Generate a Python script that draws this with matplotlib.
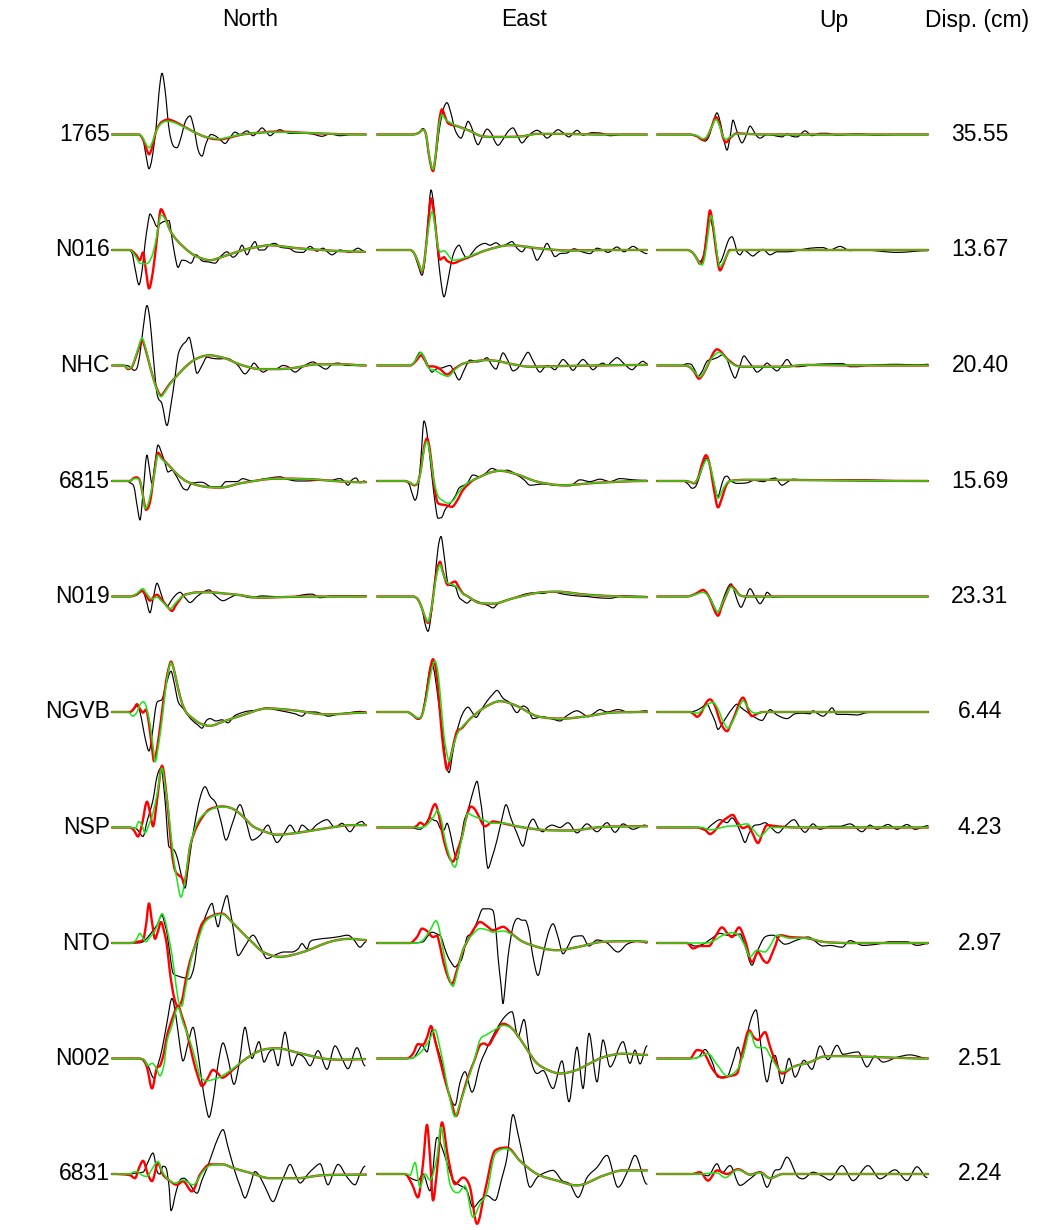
import matplotlib
matplotlib.use("Agg")
import matplotlib.pyplot as plt
from matplotlib.path import Path
from matplotlib.patches import PathPatch

# Stations (top to bottom) and their peak displacement in cm
stations = ["1765", "N016", "NHC", "6815", "N019", "NGVB", "NSP", "NTO", "N002", "6831"]
disp_cm = [35.55, 13.67, 20.40, 15.69, 23.31, 6.44, 4.23, 2.97, 2.51, 2.24]
components = ["North", "East", "Up"]

# Samples per component window
n_samples = [254, 270, 271]

# Traces as (sample, amplitude in % of station peak)
# obs = recorded, syn_a = red model, syn_b = green model

# ---- 1765 ----
s1765_n_obs = [(0,0),(26,0),(31,-8),(34,-35),(37,-57),(40,-40),(44,10),(47,70),(50,102),(53,75),(57,10),(61,-18),(65,-22),(69,-5),(73,20),(78,31),(82,10),(86,-25),(90,-36),(94,-15),(99,0),(104,-3),(109,-10),(113,-15),(118,-5),(123,4),(128,0),(135,6),(141,-2),(146,5),(150,11),(154,5),(158,-2),(163,4),(168,8),(173,4),(178,2),(190,2),(200,1),(210,-3),(218,1),(228,-2),(240,0),(254,0)]
s1765_n_syn_a = [(0,0),(27,0),(31,-8),(34,-22),(37,-33),(40,-22),(44,5),(48,18),(52,23),(56,25),(62,22),(70,15),(80,6),(90,-2),(100,-7),(108,-8),(118,-5),(130,0),(148,3),(165,5),(190,3),(220,1),(254,0)]
s1765_n_syn_b = [(0,0),(27,0),(31,-6),(34,-16),(37,-22),(40,-14),(44,5),(48,16),(52,21),(56,22),(62,20),(70,14),(80,6),(90,-2),(100,-6),(108,-7),(118,-4),(130,0),(148,3),(165,4),(190,3),(220,1),(254,0)]
s1765_e_obs = [(0,0),(36,0),(42,3),(46,10),(49,0),(52,-35),(56,-61),(59,-35),(62,5),(66,40),(70,53),(74,35),(78,8),(84,-6),(88,10),(91,22),(95,10),(98,-8),(101,-17),(105,-5),(110,9),(115,0),(118,-12),(121,-18),(126,-8),(131,5),(136,11),(140,0),(145,-14),(150,-5),(155,3),(160,7),(165,2),(170,-6),(175,0),(181,8),(186,3),(192,-4),(196,2),(200,7),(206,-1),(215,3),(225,2),(233,-2),(245,0),(270,0)]
s1765_e_syn_a = [(0,0),(36,0),(42,3),(46,8),(49,0),(52,-35),(56,-61),(59,-30),(62,20),(65,42),(68,30),(71,19),(80,14),(93,6),(103,-2),(115,-4),(126,-4),(145,-3),(160,1),(185,1),(220,0),(270,0)]
s1765_e_syn_b = [(0,0),(36,0),(42,3),(46,8),(49,0),(52,-33),(56,-58),(59,-30),(62,15),(65,33),(68,26),(71,22),(80,14),(93,6),(103,-2),(115,-4),(126,-4),(145,-3),(160,1),(185,1),(220,0),(270,0)]
s1765_u_obs = [(0,0),(33,0),(40,-3),(44,-8),(48,-11),(52,-3),(56,20),(60,36),(64,15),(67,-10),(70,-26),(73,-5),(76,24),(79,10),(82,-5),(85,-14),(89,-2),(93,14),(97,5),(100,-3),(103,-6),(110,0),(118,-2),(125,-4),(130,1),(135,-3),(140,-4),(148,6),(155,-2),(163,2),(170,2),(180,-1),(200,1),(220,-1),(240,0),(271,0)]
s1765_u_syn_a = [(0,0),(33,0),(40,-3),(46,-9),(50,-5),(54,10),(59,29),(63,15),(66,-5),(69,-13),(73,-6),(80,2),(90,1),(110,0),(271,0)]
s1765_u_syn_b = [(0,0),(33,0),(40,-2),(46,-7),(50,-3),(54,10),(59,25),(63,12),(66,-3),(69,-8),(73,-4),(80,1),(90,1),(110,0),(271,0)]

# ---- N016 ----
n016_n_obs = [(0,0),(16,0),(20,-5),(23,-30),(27,-58),(30,-35),(33,10),(36,45),(38,60),(41,52),(45,39),(49,45),(53,48),(57,49),(60,20),(63,-10),(66,-29),(70,-17),(74,-18),(79,-22),(84,-8),(90,-18),(97,-20),(103,-22),(109,-10),(115,-3),(121,-12),(126,-5),(130,8),(135,-8),(139,5),(143,14),(147,0),(152,0),(157,8),(163,11),(168,5),(178,2),(183,-3),(191,-4),(198,6),(205,-2),(211,3),(216,-4),(220,-8),(228,0),(238,-4),(246,3),(253,-3)]
n016_n_syn_a = [(0,0),(18,0),(24,-8),(28,-17),(31,-4),(34,-35),(37,-64),(41,-35),(45,20),(49,68),(53,55),(58,33),(64,18),(71,6),(78,-4),(85,-11),(98,-17),(111,-11),(131,0),(145,5),(158,8),(170,6),(185,3),(210,0),(230,-2),(253,-3)]
n016_n_syn_b = [(0,0),(18,0),(24,-12),(28,-22),(33,-23),(37,-20),(41,-5),(45,25),(49,58),(53,52),(58,33),(64,18),(71,6),(78,-4),(85,-11),(98,-17),(111,-11),(131,0),(145,5),(158,8),(170,6),(185,3),(210,0),(230,-2),(253,-3)]
n016_e_obs = [(0,0),(33,0),(37,-5),(41,-25),(45,-42),(48,-15),(51,50),(54,100),(57,70),(60,10),(63,-40),(67,-78),(71,-50),(75,-15),(78,0),(82,8),(86,-5),(90,-14),(95,-5),(100,5),(108,11),(113,8),(119,12),(125,6),(130,10),(135,14),(140,3),(145,-3),(150,6),(155,2),(160,-17),(165,-5),(170,11),(174,0),(178,-11),(183,-6),(190,-5),(197,2),(205,-3),(213,-6),(220,3),(226,0),(231,-4),(240,5),(247,-3),(256,6),(263,-1),(270,-6)]
n016_e_syn_a = [(0,0),(33,0),(37,-5),(41,-20),(45,-36),(48,-10),(51,40),(54,86),(57,60),(60,15),(63,-16),(67,-12),(70,-18),(76,-22),(84,-17),(93,-11),(110,0),(133,8),(160,3),(193,-1),(230,0),(270,0)]
n016_e_syn_b = [(0,0),(33,0),(37,-5),(41,-20),(45,-35),(48,-10),(51,30),(55,64),(58,40),(61,5),(64,-3),(67,-1),(70,-6),(76,-17),(84,-15),(93,-10),(110,0),(133,8),(160,3),(193,-1),(230,0),(270,0)]
n016_u_obs = [(0,0),(30,0),(36,-5),(40,-15),(43,-19),(47,-5),(50,30),(53,50),(56,35),(59,5),(62,-22),(65,-15),(69,5),(72,18),(75,22),(78,10),(80,-3),(83,-8),(87,0),(90,-3),(96,-10),(100,-5),(106,1),(113,-8),(120,-3),(130,-3),(143,0),(153,3),(166,4),(173,0),(183,6),(193,-1),(206,0),(240,-4),(271,-1)]
n016_u_syn_a = [(0,0),(30,0),(36,-5),(40,-15),(43,-23),(47,-10),(50,30),(53,66),(56,40),(59,0),(63,-34),(66,-25),(70,-8),(73,0),(271,0)]
n016_u_syn_b = [(0,0),(30,0),(36,-5),(40,-15),(45,-25),(48,-10),(51,25),(54,57),(57,35),(60,-5),(63,-28),(67,-18),(71,-5),(75,0),(271,0)]

# ---- NHC ----
nhc_n_obs = [(0,0),(15,0),(19,-4),(22,-8),(25,-4),(28,20),(31,60),(35,100),(38,75),(41,20),(45,-47),(50,-64),(55,-100),(59,-65),(63,-20),(66,17),(70,33),(74,40),(77,47),(81,20),(85,-13),(90,0),(95,14),(100,12),(108,11),(115,12),(120,8),(126,0),(133,-14),(138,-5),(142,4),(146,-3),(151,-11),(157,-6),(165,-5),(171,0),(176,-2),(183,-11),(190,-3),(196,3),(201,6),(207,0),(214,-6),(220,2),(226,4),(235,0),(254,0)]
nhc_n_syn_a = [(0,0),(12,0),(16,-6),(20,-2),(24,15),(28,35),(30,42),(33,30),(37,5),(42,-25),(46,-43),(49,-50),(53,-42),(58,-30),(65,-17),(73,-3),(81,8),(90,15),(98,17),(106,15),(115,11),(123,5),(131,0),(148,-6),(165,-6),(182,-4),(205,2),(231,2),(254,0)]
nhc_n_syn_b = [(0,0),(12,0),(16,-5),(20,-1),(24,17),(28,39),(30,46),(33,33),(37,6),(42,-26),(46,-45),(49,-52),(53,-44),(58,-31),(65,-17),(73,-3),(81,8),(90,15),(98,17),(106,15),(115,11),(123,5),(131,0),(148,-6),(165,-6),(182,-4),(205,2),(231,2),(254,0)]
nhc_e_obs = [(0,0),(33,0),(37,5),(40,15),(43,22),(47,15),(51,0),(55,-11),(59,-6),(65,-4),(70,-1),(73,0),(77,-10),(82,-24),(87,-8),(93,9),(100,6),(105,8),(110,13),(115,0),(119,-6),(122,5),(126,21),(131,8),(136,-9),(141,-4),(146,10),(151,22),(156,8),(163,-11),(168,-2),(171,0),(178,-7),(182,2),(186,10),(191,2),(196,-8),(201,2),(206,10),(211,2),(216,-7),(221,0),(226,4),(230,0),(235,7),(240,13),(247,3),(255,-7),(260,0),(266,7),(270,3)]
nhc_e_syn_a = [(0,0),(33,0),(37,4),(41,12),(44,17),(48,8),(51,-1),(58,-2),(63,-6),(70,-15),(78,-5),(86,3),(98,7),(110,9),(122,7),(133,3),(153,-2),(180,-1),(220,0),(270,1)]
nhc_e_syn_b = [(0,0),(33,0),(37,5),(41,16),(44,22),(48,10),(52,-5),(58,-8),(64,-14),(71,-18),(78,-7),(86,3),(98,7),(110,9),(122,7),(133,3),(153,-2),(180,-1),(220,0),(270,1)]
nhc_u_obs = [(0,0),(25,0),(30,3),(34,2),(38,-8),(41,-18),(45,-10),(50,7),(55,10),(60,13),(66,18),(70,10),(74,-8),(78,-21),(82,-5),(87,16),(91,8),(96,-3),(100,-11),(105,-5),(110,4),(115,-3),(120,-9),(125,0),(130,10),(135,0),(140,-2),(160,2),(186,3),(193,-2),(200,-2),(210,0),(240,2),(260,1),(271,2)]
nhc_u_syn_a = [(0,0),(25,0),(32,-2),(37,-10),(42,-22),(47,-12),(52,5),(56,20),(60,27),(64,23),(69,13),(73,7),(79,0),(87,-2),(110,-2),(126,-2),(150,1),(200,0),(271,0)]
nhc_u_syn_b = [(0,0),(25,0),(32,-2),(37,-9),(43,-19),(48,-8),(53,8),(58,18),(62,22),(66,18),(70,10),(75,3),(80,-1),(90,-2),(110,-2),(126,-2),(150,1),(200,0),(271,0)]

# ---- 6815 ----
s6815_n_obs = [(0,0),(15,0),(18,-3),(22,-10),(25,-40),(28,-65),(31,-20),(35,43),(37,25),(40,-4),(43,30),(46,60),(50,45),(53,30),(56,15),(60,18),(63,12),(68,-3),(71,-12),(75,-15),(79,-5),(83,-3),(88,-2),(92,-3),(98,-9),(104,-10),(108,-10),(114,-1),(125,-1),(131,4),(135,2),(141,0),(150,3),(158,5),(168,7),(175,3),(185,0),(195,0),(205,1),(218,1),(228,4),(232,0),(236,-7),(240,2),(244,5),(248,-3),(252,0),(254,-1)]
s6815_n_syn_a = [(0,0),(18,0),(21,4),(24,6),(28,0),(31,-25),(34,-48),(38,-35),(42,10),(46,47),(50,38),(58,24),(66,10),(75,-1),(91,-9),(108,-11),(131,-3),(165,4),(198,3),(231,-1),(254,-2)]
s6815_n_syn_b = [(0,0),(18,0),(21,3),(24,4),(28,0),(31,-25),(33,-46),(37,-33),(42,8),(46,43),(50,36),(58,24),(66,10),(75,-1),(91,-9),(108,-11),(131,-3),(165,4),(198,3),(231,-1),(254,-2)]
s6815_e_obs = [(0,0),(26,0),(32,-5),(35,-20),(38,-32),(41,-15),(44,40),(47,100),(50,80),(55,7),(58,-35),(61,-62),(65,-60),(68,-48),(72,-40),(78,-26),(82,-12),(90,-4),(96,10),(103,7),(108,12),(115,21),(123,16),(130,18),(140,10),(147,2),(153,-7),(166,-5),(178,-7),(193,-8),(203,2),(213,-1),(223,3),(233,-1),(243,4),(256,2),(270,1)]
s6815_e_syn_a = [(0,0),(28,0),(33,-3),(37,-7),(41,-2),(44,20),(47,55),(50,71),(53,50),(57,-5),(61,-37),(68,-40),(75,-43),(80,-33),(86,-15),(95,0),(103,7),(113,14),(123,17),(140,11),(160,-1),(186,-7),(220,-3),(270,0)]
s6815_e_syn_b = [(0,0),(28,0),(33,-3),(37,-6),(41,-2),(44,18),(47,52),(50,66),(53,45),(57,0),(61,-25),(66,-33),(71,-37),(76,-33),(82,-18),(90,-4),(103,7),(113,14),(123,17),(140,11),(160,-1),(186,-7),(220,-3),(270,0)]
s6815_u_obs = [(0,0),(26,0),(31,-5),(35,-12),(39,-8),(44,15),(49,38),(53,25),(57,-5),(61,-26),(64,-10),(67,5),(70,8),(74,0),(80,-4),(90,-3),(97,1),(106,-1),(113,3),(118,5),(125,-7),(131,-1),(136,3),(150,1),(186,2),(271,0)]
s6815_u_syn_a = [(0,0),(28,0),(34,-2),(37,-4),(41,5),(45,28),(49,43),(53,25),(57,-15),(61,-44),(65,-28),(69,-8),(73,0),(93,2),(271,0)]
s6815_u_syn_b = [(0,0),(28,0),(34,-2),(37,-3),(42,8),(46,25),(50,36),(54,20),(58,-10),(61,-29),(65,-17),(69,-5),(73,0),(93,2),(271,0)]

# ---- N019 ----
n019_n_obs = [(0,0),(18,0),(22,1),(26,4),(30,11),(34,-5),(38,-27),(41,-5),(45,22),(49,5),(52,-10),(55,-16),(60,-5),(64,3),(68,7),(73,-2),(78,-10),(85,0),(92,8),(97,11),(103,2),(111,-7),(118,-2),(125,3),(135,-1),(140,-2),(150,1),(160,0),(178,-1),(192,3),(200,4),(208,-2),(220,1),(254,1)]
n019_n_syn_a = [(0,0),(18,0),(24,3),(30,9),(34,2),(38,-7),(42,0),(45,3),(48,-2),(53,-12),(57,-20),(60,-24),(64,-14),(71,1),(78,5),(85,7),(98,7),(112,5),(125,3),(148,-2),(170,-1),(200,0),(254,0)]
n019_n_syn_b = [(0,0),(18,0),(24,4),(31,13),(35,4),(40,-4),(45,-1),(48,-5),(54,-15),(58,-21),(62,-14),(68,-3),(74,3),(85,7),(98,7),(112,5),(125,3),(148,-2),(170,-1),(200,0),(254,0)]
n019_e_obs = [(0,0),(36,0),(41,-5),(45,-20),(48,-45),(51,-58),(55,-20),(58,30),(61,80),(64,100),(67,70),(71,22),(75,18),(78,17),(82,-1),(86,-7),(90,-11),(95,-5),(100,-8),(106,-12),(111,-15),(116,-19),(121,-12),(126,-8),(136,-3),(146,3),(156,6),(165,5),(175,8),(186,4),(200,1),(210,0),(220,-2),(233,-3),(246,1),(270,0)]
n019_e_syn_a = [(0,0),(36,0),(41,-5),(45,-20),(48,-35),(51,-44),(55,-15),(58,25),(61,50),(63,58),(66,40),(71,19),(75,23),(78,25),(82,15),(86,5),(90,1),(103,-11),(116,-12),(136,-3),(160,6),(180,8),(210,3),(245,0),(270,-1)]
n019_e_syn_b = [(0,0),(36,0),(41,-5),(45,-20),(48,-33),(51,-42),(55,-15),(58,20),(61,45),(63,53),(66,38),(71,22),(75,20),(78,18),(82,12),(86,4),(90,1),(103,-11),(116,-12),(136,-3),(160,6),(180,8),(210,3),(245,0),(270,-1)]
n019_u_obs = [(0,0),(30,0),(38,3),(43,8),(46,10),(50,5),(54,-5),(58,-20),(61,-26),(65,-10),(70,12),(74,21),(78,5),(81,-10),(84,-18),(88,-5),(93,13),(98,0),(103,-12),(107,-3),(110,7),(116,-1),(125,0),(271,0)]
n019_u_syn_a = [(0,0),(30,0),(38,4),(43,9),(46,11),(50,5),(54,-8),(58,-25),(61,-32),(65,-15),(70,5),(74,18),(78,12),(83,2),(90,0),(271,0)]
n019_u_syn_b = [(0,0),(30,0),(38,3),(43,6),(46,7),(50,3),(54,-6),(58,-20),(61,-26),(65,-12),(70,5),(74,16),(78,10),(83,2),(90,0),(271,0)]

# ---- NGVB ----
ngvb_n_obs = [(0,0),(18,0),(22,5),(25,10),(28,0),(31,-25),(34,-50),(37,-65),(40,-40),(43,0),(45,16),(48,19),(50,21),(54,45),(59,68),(62,50),(66,18),(70,8),(73,2),(77,-8),(81,-15),(86,-22),(90,-27),(94,-15),(98,-11),(104,-15),(110,-13),(116,-18),(122,-7),(130,-1),(138,2),(146,3),(155,7),(163,4),(172,1),(183,-3),(190,-7),(195,0),(203,0),(210,-3),(216,-7),(225,-4),(238,-1),(248,1),(254,0)]
ngvb_n_syn_a = [(0,0),(18,0),(22,6),(25,13),(28,5),(31,-1),(34,4),(37,-20),(40,-60),(42,-82),(46,-50),(50,0),(54,50),(57,75),(59,84),(62,70),(66,40),(70,15),(74,0),(78,-7),(88,-19),(98,-23),(111,-16),(131,-5),(155,6),(181,3),(215,-4),(254,-1)]
ngvb_n_syn_b = [(0,0),(16,0),(21,-7),(25,0),(28,12),(31,17),(34,10),(38,-20),(42,-70),(43,-83),(47,-50),(51,0),(55,55),(59,82),(62,70),(66,40),(70,15),(74,0),(78,-7),(88,-19),(98,-23),(111,-16),(131,-5),(155,6),(181,3),(215,-4),(254,-1)]
ngvb_e_obs = [(0,0),(30,0),(35,-5),(41,-12),(45,-5),(49,30),(52,65),(55,81),(58,60),(62,10),(66,-40),(69,-85),(72,-101),(76,-65),(80,-32),(85,-5),(91,8),(95,0),(99,-9),(104,3),(110,18),(116,30),(120,36),(126,23),(133,15),(140,-1),(146,10),(151,5),(156,-11),(165,-8),(176,-12),(183,-15),(190,-6),(200,2),(206,-3),(211,-8),(217,-2),(223,4),(230,0),(241,4),(253,-1),(270,2)]
ngvb_e_syn_a = [(0,0),(30,0),(35,-4),(41,-11),(45,-5),(49,25),(53,70),(56,88),(59,70),(62,20),(65,-40),(68,-80),(70,-96),(73,-80),(77,-50),(80,-32),(84,-28),(86,-25),(91,-15),(96,-7),(108,8),(123,18),(140,10),(160,-7),(186,-11),(210,-7),(235,-1),(270,0)]
ngvb_e_syn_b = [(0,0),(30,0),(35,-4),(41,-10),(45,-5),(49,20),(54,65),(58,85),(61,65),(64,15),(67,-40),(70,-70),(72,-82),(76,-60),(80,-38),(85,-25),(91,-15),(96,-7),(108,8),(123,18),(140,10),(160,-7),(186,-11),(210,-7),(235,-1),(270,0)]
ngvb_u_obs = [(0,0),(33,0),(40,3),(45,8),(50,13),(54,0),(58,-15),(61,-29),(65,-20),(70,-7),(75,5),(80,13),(85,6),(90,0),(96,-7),(105,-14),(110,-2),(113,4),(120,-5),(130,-11),(138,-3),(146,-2),(153,-3),(156,2),(160,-2),(166,-7),(171,0),(175,7),(180,-4),(190,-4),(200,-5),(210,-1),(230,0),(271,0)]
ngvb_u_syn_a = [(0,0),(33,0),(37,-4),(40,-8),(44,-2),(49,15),(53,21),(58,10),(63,-15),(67,-28),(70,-32),(74,-20),(79,0),(83,18),(86,24),(89,15),(92,0),(95,-7),(100,-3),(106,0),(271,0)]
ngvb_u_syn_b = [(0,0),(33,0),(40,-2),(45,3),(50,12),(56,16),(61,5),(66,-15),(71,-27),(75,-18),(80,0),(84,15),(86,19),(90,10),(95,0),(100,-2),(106,0),(271,0)]

# ---- NSP ----
nsp_n_obs = [(0,0),(18,0),(25,-3),(31,-15),(35,10),(41,46),(45,85),(49,99),(53,46),(57,-32),(60,-35),(63,-40),(66,-55),(70,-85),(73,-101),(76,-70),(80,-21),(86,35),(90,60),(93,68),(98,52),(104,40),(109,10),(114,-21),(120,5),(128,38),(134,10),(140,-21),(148,-13),(156,4),(160,-10),(165,-25),(172,-10),(178,4),(185,-10),(190,4),(198,-5),(205,5),(215,13),(223,0),(230,7),(238,-7),(244,5),(250,10),(254,4)]
nsp_n_syn_a = [(0,0),(18,0),(22,-5),(26,-15),(30,5),(35,43),(38,25),(41,2),(45,45),(50,103),(55,46),(60,-43),(63,-71),(67,-80),(70,-84),(72,-93),(75,-70),(78,-32),(85,2),(95,27),(102,33),(110,35),(118,33),(125,27),(133,15),(141,2),(153,-7),(165,-12),(185,-9),(215,-1),(240,4),(254,4)]
nsp_n_syn_b = [(0,0),(20,0),(23,-2),(27,10),(30,3),(33,-9),(37,5),(41,24),(45,55),(50,99),(53,70),(56,35),(61,-43),(65,-87),(69,-116),(73,-87),(78,-32),(86,10),(98,29),(108,34),(118,33),(125,27),(133,15),(141,2),(153,-7),(165,-12),(185,-9),(215,-1),(240,4),(254,4)]
nsp_e_obs = [(0,0),(33,0),(43,-3),(48,5),(53,16),(57,12),(60,10),(64,-3),(67,-4),(70,7),(74,-15),(77,-40),(80,-54),(84,-20),(87,10),(90,24),(93,41),(97,65),(100,77),(103,50),(106,13),(108,-30),(111,-68),(115,-50),(120,-21),(125,15),(129,38),(134,15),(140,-10),(146,-31),(151,0),(156,14),(162,-3),(166,-7),(170,0),(175,4),(183,0),(191,8),(200,-9),(210,6),(220,-7),(230,8),(238,-8),(246,6),(256,-3),(268,4),(270,2)]
nsp_e_syn_a = [(0,0),(36,0),(40,3),(43,8),(48,4),(52,15),(55,30),(58,39),(62,20),(66,-15),(70,-40),(73,-52),(76,-57),(80,-40),(85,-15),(89,15),(94,35),(98,30),(101,21),(108,2),(116,10),(126,7),(143,1),(166,-4),(193,-5),(226,1),(270,2)]
nsp_e_syn_b = [(0,0),(36,0),(43,0),(48,2),(53,10),(58,22),(60,29),(64,15),(68,-20),(72,-45),(75,-60),(78,-66),(82,-40),(86,-10),(91,24),(95,20),(103,15),(116,7),(126,7),(143,1),(166,-4),(193,-5),(226,1),(270,2)]
nsp_u_obs = [(0,0),(40,0),(48,-4),(55,5),(63,13),(70,8),(75,16),(80,5),(84,-10),(88,-25),(92,-10),(97,3),(103,5),(108,8),(114,0),(121,-9),(128,2),(137,13),(143,0),(148,-8),(156,6),(163,-3),(173,2),(183,2),(193,6),(205,-7),(213,4),(220,-3),(231,5),(240,-3),(250,5),(258,-3),(271,3)]
nsp_u_syn_a = [(0,0),(40,0),(48,-4),(53,-11),(58,-5),(64,8),(70,16),(76,21),(80,10),(86,-1),(91,2),(95,-8),(101,-26),(105,-12),(110,4),(120,2),(140,0),(271,0)]
nsp_u_syn_b = [(0,0),(45,0),(53,-4),(60,-2),(70,2),(80,3),(90,6),(96,-3),(103,-15),(108,-8),(113,0),(140,0),(271,0)]

# ---- NTO ----
nto_n_obs = [(0,0),(25,0),(31,2),(36,10),(41,21),(45,30),(50,46),(53,30),(55,16),(58,-20),(61,-50),(66,-55),(72,-58),(77,-60),(82,-40),(86,4),(91,32),(96,55),(100,66),(103,45),(106,27),(110,55),(115,79),(118,55),(121,27),(126,-21),(133,-5),(141,13),(148,-5),(155,-26),(163,-20),(172,-15),(180,-15),(186,-10),(190,-1),(195,-10),(198,2),(205,6),(215,8),(225,10),(236,13),(242,5),(248,-7),(254,2)]
nto_n_syn_a = [(0,0),(18,0),(25,2),(31,5),(34,30),(37,66),(40,35),(43,7),(46,20),(49,35),(52,20),(55,-5),(58,-50),(62,-90),(66,-106),(70,-95),(74,-60),(78,-30),(83,-5),(90,32),(100,45),(110,49),(120,35),(131,16),(141,0),(151,-15),(168,-23),(191,-15),(218,2),(238,7),(254,5)]
nto_n_syn_b = [(0,0),(20,0),(24,5),(28,16),(31,8),(34,2),(38,10),(43,20),(47,38),(50,49),(53,38),(56,15),(60,-20),(64,-70),(67,-100),(70,-105),(73,-80),(77,-45),(81,-15),(86,5),(92,32),(100,44),(110,48),(120,35),(131,16),(141,0),(151,-15),(168,-23),(191,-15),(218,2),(238,7),(254,5)]
nto_e_obs = [(0,0),(33,0),(46,2),(51,12),(55,18),(60,15),(64,10),(68,-10),(71,-23),(74,-32),(78,-40),(81,-35),(85,-26),(88,-5),(90,10),(95,16),(100,35),(106,57),(111,57),(116,54),(119,20),(121,-23),(124,-70),(126,-101),(128,-75),(131,-23),(136,27),(141,41),(145,38),(148,38),(152,20),(156,-23),(161,-54),(166,-20),(171,15),(176,32),(181,10),(186,-18),(191,-5),(196,10),(205,12),(212,-5),(220,5),(230,0),(241,-15),(250,-2),(262,3),(270,0)]
nto_e_syn_a = [(0,0),(33,0),(40,10),(45,24),(50,20),(56,10),(60,12),(63,-5),(66,-29),(70,-52),(75,-68),(80,-45),(86,-12),(91,5),(96,21),(103,35),(110,28),(116,21),(121,24),(126,27),(135,15),(146,2),(166,-9),(180,-12),(200,-7),(226,2),(260,3),(270,2)]
nto_e_syn_b = [(0,0),(40,0),(46,5),(53,21),(59,37),(62,25),(66,-10),(70,-45),(74,-68),(76,-72),(80,-50),(86,-12),(91,5),(96,15),(103,24),(110,22),(116,18),(126,20),(135,14),(146,2),(166,-9),(180,-12),(200,-7),(226,2),(260,3),(270,2)]
nto_u_obs = [(0,0),(30,0),(38,-5),(46,-2),(55,8),(63,16),(70,13),(76,12),(83,15),(88,-5),(95,-37),(100,-15),(108,10),(116,13),(128,-2),(140,5),(151,10),(166,-5),(173,-4),(185,-7),(193,4),(206,-4),(220,-2),(233,2),(250,2),(260,-4),(271,-1)]
nto_u_syn_a = [(0,0),(30,0),(36,-9),(43,-5),(52,-5),(58,10),(65,26),(71,15),(75,10),(82,26),(88,5),(95,-32),(101,-15),(106,-28),(110,-33),(117,-10),(123,13),(133,10),(150,8),(166,2),(193,0),(271,0)]
nto_u_syn_b = [(0,0),(50,0),(58,5),(66,13),(76,17),(82,12),(88,-5),(93,-23),(100,-12),(108,-15),(113,-5),(120,13),(133,8),(150,8),(166,2),(193,0),(271,0)]

# ---- N002 ----
n002_n_obs = [(0,0),(25,0),(31,-1),(36,-12),(42,-33),(46,-10),(50,15),(55,60),(60,100),(64,70),(68,20),(71,-4),(76,25),(81,52),(85,20),(90,-40),(94,-80),(97,-98),(101,-70),(106,-10),(111,26),(116,0),(122,-43),(127,-10),(133,52),(137,20),(140,0),(147,28),(152,-6),(157,10),(161,15),(166,-12),(173,44),(180,-12),(186,7),(192,2),(198,-12),(206,13),(215,-18),(223,21),(230,0),(236,-17),(245,18),(253,-12)]
n002_n_syn_a = [(0,0),(26,0),(30,-1),(35,-15),(40,-50),(45,-15),(48,-12),(52,10),(55,38),(60,65),(66,88),(70,70),(75,43),(81,-1),(86,-30),(90,-46),(95,-35),(101,-19),(106,-25),(110,-32),(120,-20),(131,-4),(148,13),(165,17),(185,10),(211,0),(230,-2),(253,-1)]
n002_n_syn_b = [(0,0),(28,0),(32,-2),(36,-12),(40,-8),(44,-15),(48,-29),(52,-10),(55,28),(60,55),(66,85),(71,60),(78,29),(84,-5),(88,-29),(95,-37),(105,-33),(111,-28),(120,-18),(131,-4),(148,13),(165,17),(185,10),(211,0),(230,-2),(253,-1)]
n002_e_obs = [(0,0),(33,0),(37,2),(41,12),(45,22),(50,11),(55,47),(60,20),(65,-8),(71,-53),(78,-78),(83,-40),(88,-22),(95,-56),(103,-10),(108,10),(113,28),(121,53),(128,70),(135,78),(141,36),(147,65),(153,3),(160,-25),(166,-20),(176,-50),(185,-4),(192,-72),(200,19),(206,-50),(212,42),(220,-39),(226,31),(233,-14),(246,28),(253,-8),(258,14),(263,-9),(270,21)]
n002_e_syn_a = [(0,0),(30,0),(36,8),(41,24),(46,23),(50,35),(54,54),(58,30),(63,-3),(68,-36),(74,-70),(79,-96),(84,-70),(90,-36),(97,-5),(103,22),(107,25),(111,22),(118,40),(126,58),(135,50),(143,33),(152,10),(160,-8),(172,-20),(183,-25),(200,-19),(213,-8),(226,2),(246,8),(270,6)]
n002_e_syn_b = [(0,0),(33,0),(40,5),(46,15),(52,30),(58,48),(62,25),(67,-15),(72,-60),(78,-97),(82,-80),(90,-40),(97,-5),(103,31),(110,40),(118,48),(126,55),(135,50),(143,33),(152,10),(160,-8),(172,-20),(183,-25),(200,-19),(213,-8),(226,2),(246,8),(270,6)]
n002_u_obs = [(0,0),(36,0),(42,3),(48,15),(55,-5),(61,-31),(70,-30),(76,-5),(81,19),(85,0),(88,20),(93,60),(99,81),(104,20),(110,-39),(115,0),(118,5),(125,-42),(132,0),(138,-31),(147,-3),(155,-18),(163,21),(171,-2),(180,22),(186,7),(193,9),(201,11),(210,-14),(218,4),(226,-6),(240,2),(253,6),(271,0)]
n002_u_syn_a = [(0,0),(33,0),(40,14),(46,11),(56,-19),(65,-32),(73,-29),(80,-25),(86,15),(92,47),(97,35),(101,31),(108,44),(113,20),(118,-3),(125,-25),(136,-14),(153,-6),(166,3),(180,4),(271,0)]
n002_u_syn_b = [(0,0),(36,0),(43,3),(51,8),(60,-10),(70,-29),(81,-17),(87,10),(93,44),(98,22),(101,18),(108,18),(113,5),(120,-14),(125,-22),(136,-14),(153,-6),(166,3),(180,4),(271,0)]

# ---- 6831 ----
s6831_n_obs = [(0,0),(18,0),(25,2),(31,3),(36,20),(41,35),(45,5),(48,0),(51,13),(54,10),(57,-20),(59,-61),(64,-30),(68,-10),(72,-7),(77,-15),(85,-32),(90,-10),(95,10),(101,38),(106,60),(111,74),(116,45),(123,4),(128,-20),(133,-40),(138,-20),(143,4),(148,-5),(154,-25),(161,-46),(168,-20),(173,0),(178,16),(183,0),(188,-15),(196,0),(202,10),(208,17),(216,-18),(221,0),(226,16),(235,-5),(243,-18),(248,0),(253,13)]
s6831_n_syn_a = [(0,0),(18,-2),(23,-7),(27,10),(31,22),(36,-1),(40,-12),(46,18),(51,-1),(56,-9),(65,-18),(71,-12),(80,-29),(88,-1),(98,16),(111,16),(121,10),(138,2),(158,-7),(185,-7),(211,-2),(254,-1)]
s6831_n_syn_b = [(0,0),(18,0),(21,3),(25,4),(30,-2),(35,-4),(40,8),(46,21),(50,5),(55,-7),(63,-15),(71,-10),(81,-18),(91,4),(98,14),(111,16),(121,10),(138,2),(158,-7),(185,-7),(211,-2),(254,-1)]
s6831_e_obs = [(0,0),(26,0),(35,-8),(41,-11),(46,0),(53,-28),(60,61),(65,44),(75,-6),(81,-17),(90,-28),(96,-56),(103,-44),(110,-36),(118,-44),(125,-6),(130,28),(136,99),(141,67),(146,28),(153,-22),(160,-6),(165,0),(176,6),(185,-11),(193,-17),(201,-39),(210,-6),(220,11),(230,31),(241,-22),(251,6),(258,31),(270,-17)]
s6831_e_syn_a = [(0,0),(28,0),(35,-17),(41,-39),(46,17),(50,82),(53,28),(56,-44),(60,6),(65,86),(71,28),(78,-17),(86,-6),(93,-22),(100,-83),(108,-28),(118,39),(130,44),(143,22),(160,0),(180,-11),(200,-19),(226,-3),(246,6),(270,6)]
s6831_e_syn_b = [(0,0),(30,0),(33,-2),(38,19),(43,-22),(48,0),(53,-10),(60,28),(64,78),(68,40),(73,-17),(81,-31),(88,-20),(96,-72),(103,-50),(110,-30),(118,33),(130,42),(143,22),(160,0),(180,-11),(200,-19),(226,-3),(246,6),(270,6)]
s6831_u_obs = [(0,0),(43,0),(51,-3),(60,17),(65,2),(73,14),(83,-19),(93,-8),(103,3),(110,-22),(118,6),(123,8),(130,28),(140,-3),(146,-8),(156,3),(166,-4),(173,-10),(185,14),(196,-11),(211,14),(223,-8),(238,7),(250,-11),(260,12),(270,-6)]
s6831_u_syn_a = [(0,0),(35,0),(43,3),(51,-11),(60,6),(70,0),(81,8),(93,-1),(103,3),(113,-7),(126,0),(271,0)]
s6831_u_syn_b = [(0,0),(43,0),(60,2),(68,-6),(81,7),(93,-1),(103,2),(113,-7),(126,0),(271,0)]

# station -> [(obs, syn_a, syn_b) for North, East, Up]
traces = {
    "1765": [(s1765_n_obs, s1765_n_syn_a, s1765_n_syn_b), (s1765_e_obs, s1765_e_syn_a, s1765_e_syn_b), (s1765_u_obs, s1765_u_syn_a, s1765_u_syn_b)],
    "N016": [(n016_n_obs, n016_n_syn_a, n016_n_syn_b), (n016_e_obs, n016_e_syn_a, n016_e_syn_b), (n016_u_obs, n016_u_syn_a, n016_u_syn_b)],
    "NHC": [(nhc_n_obs, nhc_n_syn_a, nhc_n_syn_b), (nhc_e_obs, nhc_e_syn_a, nhc_e_syn_b), (nhc_u_obs, nhc_u_syn_a, nhc_u_syn_b)],
    "6815": [(s6815_n_obs, s6815_n_syn_a, s6815_n_syn_b), (s6815_e_obs, s6815_e_syn_a, s6815_e_syn_b), (s6815_u_obs, s6815_u_syn_a, s6815_u_syn_b)],
    "N019": [(n019_n_obs, n019_n_syn_a, n019_n_syn_b), (n019_e_obs, n019_e_syn_a, n019_e_syn_b), (n019_u_obs, n019_u_syn_a, n019_u_syn_b)],
    "NGVB": [(ngvb_n_obs, ngvb_n_syn_a, ngvb_n_syn_b), (ngvb_e_obs, ngvb_e_syn_a, ngvb_e_syn_b), (ngvb_u_obs, ngvb_u_syn_a, ngvb_u_syn_b)],
    "NSP": [(nsp_n_obs, nsp_n_syn_a, nsp_n_syn_b), (nsp_e_obs, nsp_e_syn_a, nsp_e_syn_b), (nsp_u_obs, nsp_u_syn_a, nsp_u_syn_b)],
    "NTO": [(nto_n_obs, nto_n_syn_a, nto_n_syn_b), (nto_e_obs, nto_e_syn_a, nto_e_syn_b), (nto_u_obs, nto_u_syn_a, nto_u_syn_b)],
    "N002": [(n002_n_obs, n002_n_syn_a, n002_n_syn_b), (n002_e_obs, n002_e_syn_a, n002_e_syn_b), (n002_u_obs, n002_u_syn_a, n002_u_syn_b)],
    "6831": [(s6831_n_obs, s6831_n_syn_a, s6831_n_syn_b), (s6831_e_obs, s6831_e_syn_a, s6831_e_syn_b), (s6831_u_obs, s6831_u_syn_a, s6831_u_syn_b)],
}

plt.rcParams["font.family"] = ["Liberation Sans", "DejaVu Sans"]

W, H = 1038, 1230
fig = plt.figure(figsize=(W / 100, H / 100), dpi=100)

row0, row_step = 134.5, 115.5        # baseline of first row, spacing (px)
col_x = [(112, 366), (377, 647), (657, 928)]
amp_lim = 96.25                      # half row height in % units

def fx(px):
    return px / W

def fy(py):
    return 1 - py / H

def trace_path(series):
    """Bezier path through every sample; flat tangent at peaks so they keep their value."""
    t = [p[0] for p in series]
    a = [p[1] for p in series]
    n = len(t)
    slope = [0.0] * n
    for k in range(1, n - 1):
        dl = (a[k] - a[k - 1]) / (t[k] - t[k - 1])
        dr = (a[k + 1] - a[k]) / (t[k + 1] - t[k])
        if dl * dr <= 0:
            continue
        m = (a[k + 1] - a[k - 1]) / (t[k + 1] - t[k - 1])
        lim = 3 * min(abs(dl), abs(dr))
        slope[k] = max(-lim, min(lim, m))
    verts = [(t[0], a[0])]
    codes = [Path.MOVETO]
    for k in range(n - 1):
        h = (t[k + 1] - t[k]) / 3
        verts += [(t[k] + h, a[k] + slope[k] * h),
                  (t[k + 1] - h, a[k + 1] - slope[k + 1] * h),
                  (t[k + 1], a[k + 1])]
        codes += [Path.CURVE4] * 3
    return Path(verts, codes)

styles = [
    dict(edgecolor="black", lw=0.85, zorder=1),
    dict(edgecolor="#ff0000", lw=1.7, zorder=2),
    dict(edgecolor="#19e619", lw=1.1, zorder=3),
]

for i, name in enumerate(stations):
    base = row0 + i * row_step
    for j, (x0, x1) in enumerate(col_x):
        ax = fig.add_axes([fx(x0), fy(base + row_step / 2), fx(x1 - x0), row_step / H])
        ax.set_xlim(0, n_samples[j])
        ax.set_ylim(-amp_lim, amp_lim)
        ax.axis("off")
        for series, st in zip(traces[name][j], styles):
            ax.add_patch(PathPatch(trace_path(series), fill=False, clip_on=False,
                                   joinstyle="round", capstyle="round", **st))
    fig.text(fx(110), fy(base), name, ha="right", va="center", fontsize=16.5)
    fig.text(fx(980), fy(base), f"{disp_cm[i]:.2f}", ha="center", va="center", fontsize=16.5)

for label, xc in zip(components, [250, 524, 834]):
    fig.text(fx(xc), fy(20), label, ha="center", va="center", fontsize=16.5)
fig.text(fx(977), fy(20), "Disp. (cm)", ha="center", va="center", fontsize=16.5)

fig.savefig("out.png", dpi=100)
